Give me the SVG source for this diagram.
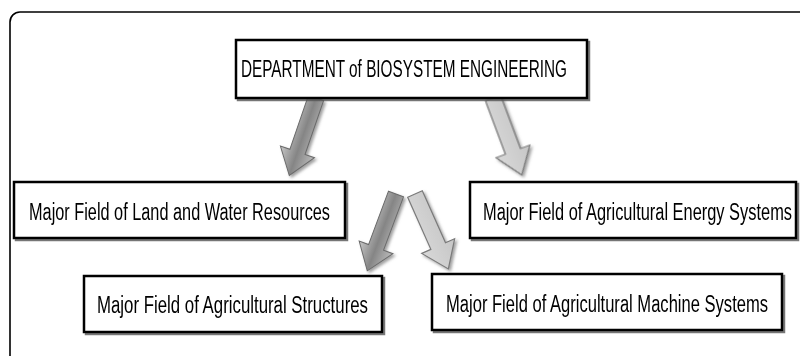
<svg xmlns="http://www.w3.org/2000/svg" width="800" height="356" viewBox="0 0 800 356">
<style>
.box{fill:#fff;stroke:#000;stroke-width:2.5}
.lbl{font-family:"Liberation Sans Narrow","Liberation Sans",Arial,sans-serif;font-size:23px;fill:#000}
.dark{fill:url(#gDark);stroke:#6a6a6a;stroke-width:1}
.light{fill:url(#gLight);stroke:#7a7a7a;stroke-width:1.2}
</style>
<defs>
<filter id="sh" x="-20%" y="-20%" width="150%" height="150%">
<feDropShadow dx="2" dy="2" stdDeviation="0.6" flood-color="#555" flood-opacity="0.8"/>
</filter>
<filter id="ash" x="-40%" y="-20%" width="180%" height="150%">
<feDropShadow dx="2" dy="2" stdDeviation="1.5" flood-color="#777" flood-opacity="0.7"/>
</filter>
<linearGradient id="gDark" x1="-18" y1="0" x2="18" y2="0" gradientUnits="userSpaceOnUse">
<stop offset="0" stop-color="#c8c8c8"/>
<stop offset="0.5" stop-color="#858585"/>
<stop offset="1" stop-color="#bcbcbc"/>
</linearGradient>
<linearGradient id="gLight" x1="-18" y1="0" x2="18" y2="0" gradientUnits="userSpaceOnUse">
<stop offset="0" stop-color="#d8d8d8"/>
<stop offset="1" stop-color="#c6c6c6"/>
</linearGradient>
<polygon id="arr" points="-8,0 8,0 8,57 18,57 0,82 -18,57 -8,57"/>
</defs>
<path d="M10,356 V22 A10,10 0 0 1 20,12 H800" fill="none" stroke="#000" stroke-width="1.6"/>
<g id="connectors">
<g filter="url(#ash)">
<use href="#arr" class="dark" transform="translate(316,98) rotate(19)"/>
<use href="#arr" class="light" transform="translate(493,98) rotate(-20.5)"/>
<use href="#arr" class="dark" transform="translate(396,194) rotate(20.5)"/>
<use href="#arr" class="light" transform="translate(415,194) rotate(-24)"/>
</g>
</g>
<g id="dept">
<rect class="box" x="236" y="40" width="351" height="58" filter="url(#sh)"/>
<text class="lbl" x="241" y="77" textLength="326" lengthAdjust="spacingAndGlyphs">DEPARTMENT of BIOSYSTEM ENGINEERING</text>
</g>
<g id="land">
<rect class="box" x="14" y="182" width="331" height="56" filter="url(#sh)"/>
<text class="lbl" x="29" y="220" textLength="301" lengthAdjust="spacingAndGlyphs">Major Field of Land and Water Resources</text>
</g>
<g id="energy">
<rect class="box" x="470" y="182" width="326" height="56" filter="url(#sh)"/>
<text class="lbl" x="483" y="220" textLength="309" lengthAdjust="spacingAndGlyphs">Major Field of Agricultural Energy Systems</text>
</g>
<g id="structures">
<rect class="box" x="84" y="276" width="298" height="56" filter="url(#sh)"/>
<text class="lbl" x="97" y="313" textLength="271" lengthAdjust="spacingAndGlyphs">Major Field of Agricultural Structures</text>
</g>
<g id="machine">
<rect class="box" x="432" y="274" width="350" height="56" filter="url(#sh)"/>
<text class="lbl" x="446" y="312" textLength="322" lengthAdjust="spacingAndGlyphs">Major Field of Agricultural Machine Systems</text>
</g>
</svg>
